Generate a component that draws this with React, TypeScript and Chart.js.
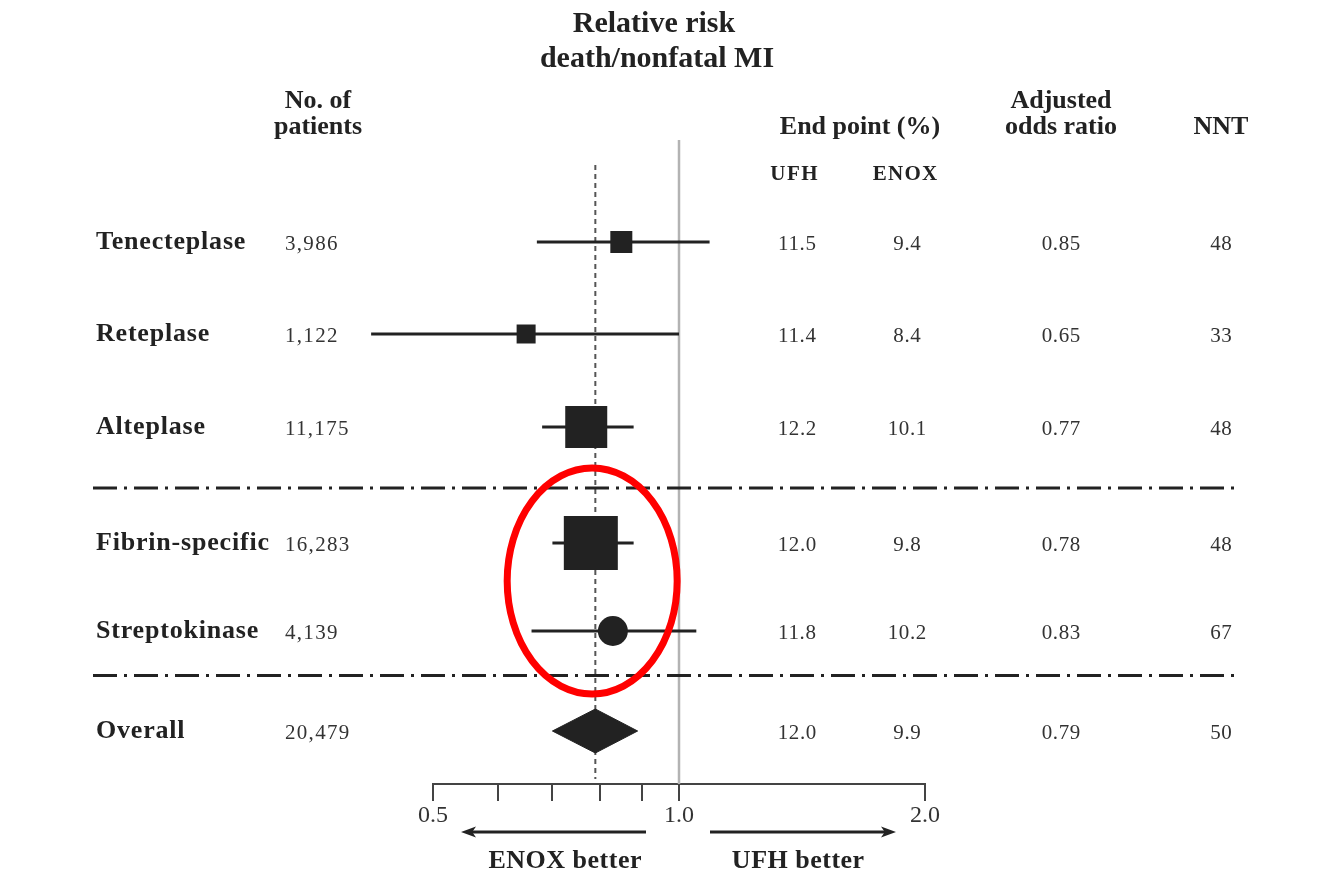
import React, { useEffect, useRef } from 'react';
import { Chart, registerables } from 'chart.js';

Chart.register(...registerables);

// ---- data ----
const therapies = ['Tenecteplase', 'Reteplase', 'Alteplase', 'Fibrin-specific', 'Streptokinase', 'Overall'];
const patients = ['3,986', '1,122', '11,175', '16,283', '4,139', '20,479'];
const ufhEndpoint = ['11.5', '11.4', '12.2', '12.0', '11.8', '12.0'];
const enoxEndpoint = ['9.4', '8.4', '10.1', '9.8', '10.2', '9.9'];
const adjustedOR = [0.85, 0.65, 0.77, 0.78, 0.83, 0.79];
const ciLower = [0.67, 0.42, 0.68, 0.7, 0.66, 0.7];
const ciUpper = [1.09, 1.0, 0.88, 0.88, 1.05, 0.89];
const nnt = ['48', '33', '48', '48', '67', '50'];
const axisTicks = [0.5, 0.6, 0.7, 0.8, 0.9, 1.0, 2.0];
const axisLabels = ['0.5', '', '', '', '', '1.0', '2.0'];

// ---- layout (row units: 100 px each on the vertical scale) ----
const Y_MIN = -1;
const Y_MAX = 5.44;
const rowPos = [0.02, 0.94, 1.87, 3.03, 3.91, 4.91];
const separatorPos = [2.48, 4.355];
const squareSide = [22, 19, 42, 54];
const circleRadius = 15;
const diamondHalfHeight = 0.22;

// highlight ring around the fibrin-specific / streptokinase comparison
const ringCentre = { x: 0.783, y: 3.41 };
const ringRadius = { x: 85, y: 113 };

const SERIF = "'Liberation Serif', 'Times New Roman', serif";
const INK = '#222222';
const TEXT = '#333333';
const RED = '#ff0000';

const squareRows = [0, 1, 2, 3];
const circleRows = [4];
const overallRow = 5;

const fmtOR = (v: number) => v.toFixed(2);

function drawText(
  ctx: CanvasRenderingContext2D,
  str: string,
  x: number,
  y: number,
  font: string,
  align: CanvasTextAlign,
  spacing = 0,
  color = INK,
) {
  ctx.save();
  ctx.font = font;
  ctx.fillStyle = color;
  ctx.textAlign = align;
  ctx.textBaseline = 'alphabetic';
  (ctx as any).letterSpacing = `${spacing}px`;
  let dx = 0;
  if (spacing && align === 'center') dx = spacing / 2;
  ctx.fillText(str, x + dx, y);
  ctx.restore();
}

function drawArrow(ctx: CanvasRenderingContext2D, x0: number, x1: number, y: number) {
  const dir = Math.sign(x1 - x0);
  const head = 15;
  const half = 5.5;
  ctx.save();
  ctx.strokeStyle = INK;
  ctx.fillStyle = INK;
  ctx.lineWidth = 3;
  ctx.beginPath();
  ctx.moveTo(x0, y);
  ctx.lineTo(x1 - dir * head * 0.6, y);
  ctx.stroke();
  ctx.beginPath();
  ctx.moveTo(x1, y);
  ctx.lineTo(x1 - dir * head, y - half);
  ctx.lineTo(x1 - dir * head * 0.75, y);
  ctx.lineTo(x1 - dir * head, y + half);
  ctx.closePath();
  ctx.fill();
  ctx.restore();
}

// Table columns, headers, separators and axis captions around the plot
const forestTable = {
  id: 'forestTable',
  afterDraw(chart: any) {
    const ctx: CanvasRenderingContext2D = chart.ctx;
    const ys = chart.scales.y;
    const xs = chart.scales.x;

    // title
    drawText(ctx, 'Relative risk', 654, 32, `bold 30px ${SERIF}`, 'center', 0, INK);
    drawText(ctx, 'death/nonfatal MI', 657, 67, `bold 30px ${SERIF}`, 'center', 0, INK);

    // column headers
    const hFont = `bold 26px ${SERIF}`;
    drawText(ctx, 'No. of', 318, 108, hFont, 'center');
    drawText(ctx, 'patients', 318, 134, hFont, 'center');
    drawText(ctx, 'End point (%)', 860, 134, hFont, 'center');
    drawText(ctx, 'Adjusted', 1061, 108, hFont, 'center');
    drawText(ctx, 'odds ratio', 1061, 134, hFont, 'center');
    drawText(ctx, 'NNT', 1221, 134, hFont, 'center');
    drawText(ctx, 'UFH', 794, 180, `bold 21px ${SERIF}`, 'center', 1.5);
    drawText(ctx, 'ENOX', 905, 180, `bold 21px ${SERIF}`, 'center', 1.2);

    // rows
    const labelFont = `bold 26px ${SERIF}`;
    const numFont = `21px ${SERIF}`;
    therapies.forEach((name, i) => {
      const cy = ys.getPixelForValue(rowPos[i]);
      drawText(ctx, name, 96, cy + 7, labelFont, 'left', 0.8, INK);
      drawText(ctx, patients[i], 285, cy + 8, numFont, 'left', 1.3, TEXT);
      drawText(ctx, ufhEndpoint[i], 797, cy + 8, numFont, 'center', 0.6, TEXT);
      drawText(ctx, enoxEndpoint[i], 907, cy + 8, numFont, 'center', 0.6, TEXT);
      drawText(ctx, fmtOR(adjustedOR[i]), 1061, cy + 8, numFont, 'center', 0.6, TEXT);
      drawText(ctx, nnt[i], 1221, cy + 8, numFont, 'center', 0.6, TEXT);
    });

    // dash-dot group separators
    ctx.save();
    ctx.strokeStyle = INK;
    ctx.lineWidth = 3;
    ctx.setLineDash([24, 7, 3, 7]);
    separatorPos.forEach((p) => {
      const py = ys.getPixelForValue(p);
      ctx.beginPath();
      ctx.moveTo(93, py);
      ctx.lineTo(1240, py);
      ctx.stroke();
    });
    ctx.restore();

    // direction arrows and captions under the axis
    const one = xs.getPixelForValue(1);
    const ay = xs.top + 48;
    drawArrow(ctx, one - 33, xs.left + 28, ay);
    drawArrow(ctx, one + 31, xs.right - 29, ay);
    drawText(ctx, 'ENOX better', 565, 868, `bold 26px ${SERIF}`, 'center', 0.5, INK);
    drawText(ctx, 'UFH better', 798, 868, `bold 26px ${SERIF}`, 'center', 0.5, INK);

    // red highlight ring
    ctx.save();
    ctx.strokeStyle = RED;
    ctx.lineWidth = 7;
    ctx.beginPath();
    ctx.ellipse(
      xs.getPixelForValue(ringCentre.x),
      ys.getPixelForValue(ringCentre.y),
      ringRadius.x,
      ringRadius.y,
      0,
      0,
      Math.PI * 2,
    );
    ctx.stroke();
    ctx.restore();
  },
};

function buildConfig(): any {
  const markers = [
    {
      type: 'scatter',
      order: 0,
      data: squareRows.map((i) => ({ x: adjustedOR[i], y: rowPos[i] })),
      pointStyle: 'rect',
      pointRadius: squareRows.map((i) => squareSide[i] / Math.SQRT2),
      backgroundColor: INK,
      borderWidth: 0,
      clip: false,
    },
    {
      type: 'scatter',
      order: 0,
      data: circleRows.map((i) => ({ x: adjustedOR[i], y: rowPos[i] })),
      pointStyle: 'circle',
      pointRadius: circleRadius,
      backgroundColor: INK,
      borderWidth: 0,
      clip: false,
    },
    {
      type: 'line',
      order: 0,
      data: [
        { x: ciLower[overallRow], y: rowPos[overallRow] },
        { x: adjustedOR[overallRow], y: rowPos[overallRow] - diamondHalfHeight },
        { x: ciUpper[overallRow], y: rowPos[overallRow] },
        { x: adjustedOR[overallRow], y: rowPos[overallRow] + diamondHalfHeight },
        { x: ciLower[overallRow], y: rowPos[overallRow] },
      ],
      borderColor: INK,
      backgroundColor: INK,
      borderWidth: 1,
      fill: 'shape',
      pointRadius: 0,
      tension: 0,
      clip: false,
    },
  ];

  const intervals = [...squareRows, ...circleRows].map((i) => ({
    type: 'line',
    order: 1,
    data: [
      { x: ciLower[i], y: rowPos[i] },
      { x: ciUpper[i], y: rowPos[i] },
    ],
    borderColor: INK,
    borderWidth: 3,
    pointRadius: 0,
    fill: false,
    clip: false,
  }));

  const references = [
    {
      type: 'line',
      order: 2,
      data: [
        { x: adjustedOR[overallRow], y: -0.75 },
        { x: adjustedOR[overallRow], y: 5.39 },
      ],
      borderColor: '#555555',
      borderWidth: 2,
      borderDash: [5, 4],
      pointRadius: 0,
      fill: false,
      clip: false,
    },
    {
      type: 'line',
      order: 3,
      data: [
        { x: 1, y: Y_MIN },
        { x: 1, y: Y_MAX },
      ],
      borderColor: '#b3b3b3',
      borderWidth: 2.5,
      pointRadius: 0,
      fill: false,
      clip: false,
    },
  ];

  return {
    type: 'scatter',
    data: { datasets: [...markers, ...intervals, ...references] },
    options: {
      animation: false,
      responsive: false,
      events: [],
      layout: { padding: { left: 433, right: 401, top: 140, bottom: 62 } },
      plugins: { legend: { display: false }, tooltip: { enabled: false } },
      scales: {
        x: {
          type: 'logarithmic',
          position: 'bottom',
          min: 0.5,
          max: 2.0,
          afterBuildTicks: (s: any) => {
            s.ticks = axisTicks.map((v) => ({ value: v }));
          },
          afterFit: (s: any) => {
            s.height = 40;
          },
          ticks: {
            autoSkip: false,
            maxRotation: 0,
            padding: 0,
            color: TEXT,
            font: { family: SERIF, size: 24 },
            callback: (_v: any, idx: number) => axisLabels[idx] ?? '',
          },
          grid: {
            display: true,
            drawOnChartArea: false,
            drawTicks: true,
            tickLength: 17,
            color: '#444444',
            lineWidth: 2,
          },
          border: { display: true, color: '#444444', width: 2 },
        },
        y: {
          type: 'linear',
          min: Y_MIN,
          max: Y_MAX,
          reverse: true,
          display: false,
        },
      },
    },
    plugins: [forestTable],
  };
}

export default function App() {
  const canvasRef = useRef<HTMLCanvasElement>(null);

  useEffect(() => {
    if (!canvasRef.current) return;
    const chart = new Chart(canvasRef.current, buildConfig());
    return () => chart.destroy();
  }, []);

  return (
    <div style={{ position: 'absolute', left: 0, top: 0, width: 1326, height: 886, background: '#ffffff' }}>
      <canvas ref={canvasRef} width={1326} height={886} style={{ display: 'block' }} />
    </div>
  );
}
